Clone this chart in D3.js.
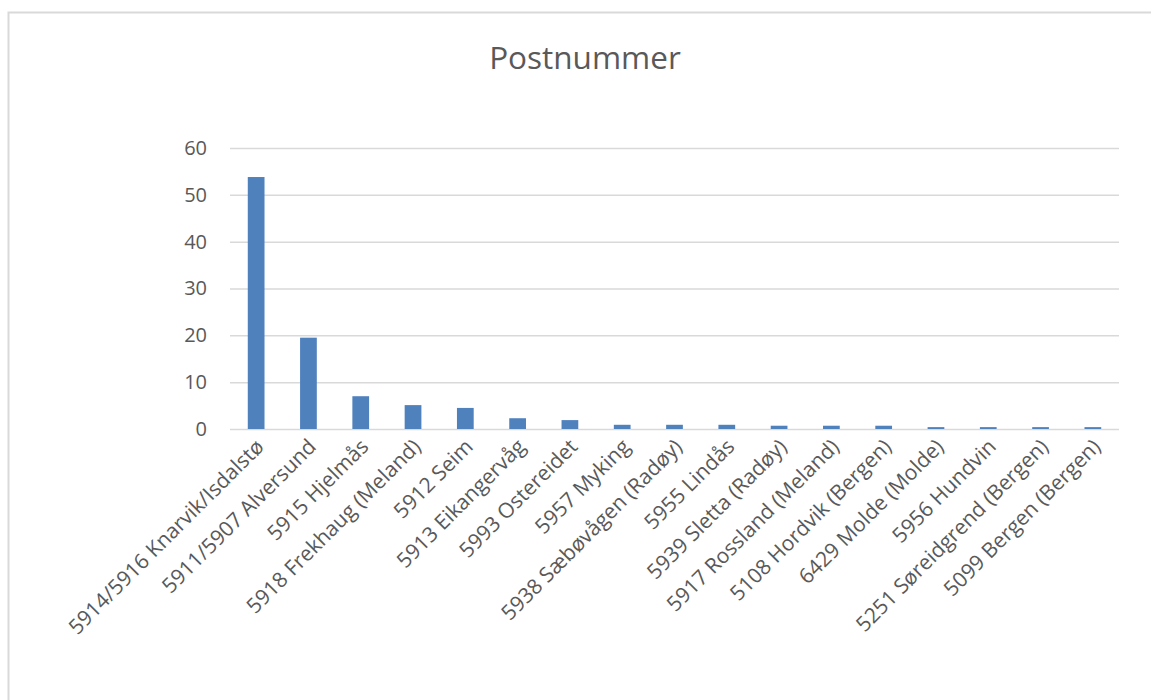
<!DOCTYPE html>
<html>
<head>
<meta charset="utf-8">
<script src="https://cdn.jsdelivr.net/npm/d3@7"></script>
<style>
  body { margin: 0; background: #fff; }
  text { font-family: 'Open Sans', sans-serif; fill: #595959; }
</style>
</head>
<body>
<script>
const width = 1151
const height = 700

const title = 'Postnummer'

const categories = [
  '5914/5916 Knarvik/Isdalstø',
  '5911/5907 Alversund',
  '5915 Hjelmås',
  '5918 Frekhaug (Meland)',
  '5912 Seim',
  '5913 Eikangervåg',
  '5993 Ostereidet',
  '5957 Myking',
  '5938 Sæbøvågen (Radøy)',
  '5955 Lindås',
  '5939 Sletta (Radøy)',
  '5917 Rossland (Meland)',
  '5108 Hordvik (Bergen)',
  '6429 Molde (Molde)',
  '5956 Hundvin',
  '5251 Søreidgrend (Bergen)',
  '5099 Bergen (Bergen)'
]

const values = [53.8, 19.5, 7.0, 5.1, 4.5, 2.3, 1.9, 0.9, 0.9, 0.9, 0.7, 0.7, 0.7, 0.4, 0.4, 0.4, 0.4]

const yTicks = [0, 10, 20, 30, 40, 50, 60]

const margin = { top: 148, right: 32, bottom: 271, left: 230 }

let svg = d3.select('body').append('svg')
  .attr('width', width)
  .attr('height', height)

// chart frame
svg.append('rect')
  .attr('x', 8.5)
  .attr('y', 12.5)
  .attr('width', 1200)
  .attr('height', 800)
  .attr('fill', 'none')
  .attr('stroke', '#d9d9d9')
  .attr('stroke-width', 2)

svg.append('text')
  .attr('x', 585)
  .attr('y', 69)
  .attr('text-anchor', 'middle')
  .style('font-size', '31.5px')
  .text(title)

const x = d3.scaleBand()
  .domain(categories)
  .range([margin.left, width - margin.right])
  .paddingInner(0.68)
  .paddingOuter(0.34)

const y = d3.scaleLinear()
  .domain([0, 60])
  .range([height - margin.bottom, margin.top])

// gridlines + y labels
let yAxis = svg.append('g')
  .attr('transform', `translate(${margin.left},0)`)
  .call(d3.axisLeft(y).tickValues(yTicks).tickSize(-(width - margin.left - margin.right)).tickPadding(23))

yAxis.select('.domain').remove()
yAxis.selectAll('.tick line')
  .attr('stroke', '#d9d9d9')
  .attr('stroke-width', 1.5)
yAxis.selectAll('.tick text')
  .style('font-size', '20px')
  .attr('fill', '#595959')

svg.append('g')
  .selectAll('rect')
  .data(values)
  .enter()
  .append('rect')
  .attr('x', (d, i) => x(categories[i]))
  .attr('y', (d) => y(d))
  .attr('width', x.bandwidth())
  .attr('height', (d) => y(0) - y(d))
  .attr('fill', '#4f81bd')

// x labels
let xAxis = svg.append('g')
  .attr('transform', `translate(0,${y(0)})`)
  .call(d3.axisBottom(x).tickSize(0).tickPadding(0))

xAxis.select('.domain').remove()
xAxis.selectAll('.tick text')
  .style('font-size', '21px')
  .attr('fill', '#595959')
  .attr('text-anchor', 'end')
  .attr('dy', 0)
  .attr('transform', 'translate(9,19) rotate(-45)')
</script>
</body>
</html>
